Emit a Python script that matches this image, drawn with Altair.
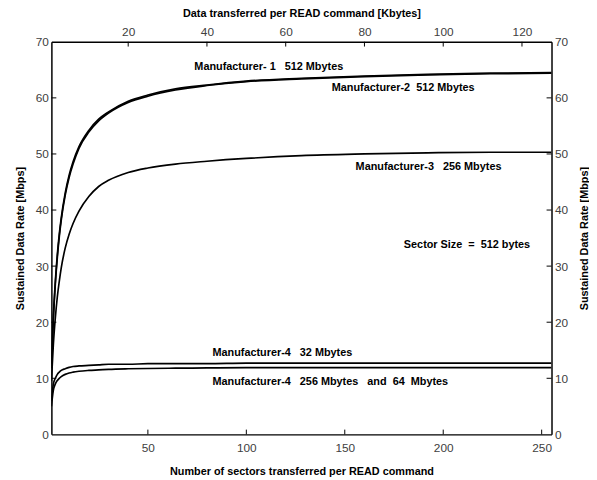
import altair as alt
import pandas as pd

# sectors per READ command
sectors = [1, 2, 3, 4, 5, 6, 8, 10, 12, 15, 20, 25, 30, 40, 50, 64, 80, 100, 128, 160, 192, 224, 255]
m1 = [12.6, 21.2, 27.3, 32.0, 35.7, 38.6, 43.0, 46.2, 48.6, 51.3, 54.2, 56.2, 57.5, 59.4, 60.5, 61.6, 62.3, 63.0, 63.5, 63.9, 64.2, 64.4, 64.5]
m2 = [11.8, 20.5, 26.8, 31.5, 35.2, 38.2, 42.6, 45.8, 48.2, 51.0, 53.9, 55.9, 57.3, 59.2, 60.3, 61.4, 62.2, 62.9, 63.4, 63.8, 64.1, 64.3, 64.4]
m3 = [9.5, 16.1, 20.8, 24.5, 27.3, 29.7, 33.2, 35.7, 37.6, 39.8, 42.4, 44.2, 45.3, 46.7, 47.5, 48.2, 48.7, 49.2, 49.7, 50.0, 50.2, 50.3, 50.3]
m4a = [6.0, 9.0, 10.0, 10.7, 11.1, 11.4, 11.7, 11.95, 12.1, 12.2, 12.3, 12.4, 12.5, 12.5, 12.6, 12.6, 12.6, 12.7, 12.7, 12.7, 12.7, 12.7, 12.7]
m4b = [5.0, 7.9, 9.0, 9.6, 10.0, 10.3, 10.7, 10.95, 11.1, 11.25, 11.4, 11.5, 11.6, 11.7, 11.75, 11.8, 11.85, 11.9, 11.9, 11.9, 11.9, 11.9, 11.9]
series_names = ["M1", "M2", "M3", "M4a", "M4b"]

label_texts = [
    "Manufacturer- 1\u00a0\u00a0 512 Mbytes",
    "Manufacturer-2\u00a0 512 Mbytes",
    "Manufacturer-3\u00a0\u00a0 256 Mbytes",
    "Sector Size\u00a0 = \u00a0512 bytes",
    "Manufacturer-4\u00a0\u00a0 32 Mbytes",
    "Manufacturer-4\u00a0\u00a0 256 Mbytes\u00a0\u00a0 and\u00a0 64\u00a0 Mbytes",
]
label_x = [73.6, 143.4, 155.5, 180.0, 82.8, 82.8]
label_y = [65.5, 61.7, 47.6, 33.8, 14.5, 9.3]

bottom_ticks = [50, 100, 150, 200, 250]
top_ticks = [40, 80, 120, 160, 200, 240]  # sectors -> 20..120 Kbytes
y_ticks = [0, 10, 20, 30, 40, 50, 60, 70]

rows = []
for name, vals in zip(series_names, [m1, m2, m3, m4a, m4b]):
    for s, v in zip(sectors, vals):
        rows.append({"series": name, "n": s, "rate": v})
df = pd.DataFrame(rows)
labels_df = pd.DataFrame({"text": label_texts, "x": label_x, "y": label_y})

XS = alt.Scale(domain=[1, 255], nice=False, zero=False)
YS = alt.Scale(domain=[0, 70], nice=False)
FONT = "Liberation Sans"
TCOL = "#404040"

lines = alt.Chart(df).mark_line(color="black", strokeWidth=1.7, interpolate="monotone", clip=True).encode(
    x=alt.X("n:Q", scale=XS, axis=alt.Axis(
        orient="bottom", values=bottom_ticks, title="Number of sectors transferred per READ command",
        labelPadding=8, titlePadding=13)),
    y=alt.Y("rate:Q", scale=YS, axis=alt.Axis(
        orient="left", values=y_ticks, title="Sustained Data Rate  [Mbps]",
        labelPadding=3, titlePadding=10)),
    detail="series:N",
)

tdf_bottom = pd.DataFrame({"t": bottom_ticks})
tdf_top = pd.DataFrame({"t": top_ticks})
tdf_y = pd.DataFrame({"t": y_ticks[1:-1]})

tick_bottom = alt.Chart(tdf_bottom).mark_rule(color="black", strokeWidth=1).encode(
    x=alt.X("t:Q", scale=XS, axis=None),
    y=alt.datum(0, scale=YS, axis=None), y2=alt.datum(0.85),
)
tick_top = alt.Chart(tdf_top).mark_rule(color="black", strokeWidth=1).encode(
    x=alt.X("t:Q", scale=XS, axis=alt.Axis(
        orient="top", values=top_ticks, labelExpr="datum.value / 2",
        title="Data transferred per READ command [Kbytes]", labelPadding=3, titlePadding=8)),
    y=alt.datum(70, scale=YS, axis=None), y2=alt.datum(69.15),
)
tick_left = alt.Chart(tdf_y).mark_rule(color="black", strokeWidth=1).encode(
    y=alt.Y("t:Q", scale=YS, axis=None),
    x=alt.datum(1, scale=XS, axis=None), x2=alt.datum(3.5),
)
tick_right = alt.Chart(tdf_y).mark_rule(color="black", strokeWidth=1).encode(
    y=alt.Y("t:Q", scale=YS, axis=alt.Axis(
        orient="right", values=y_ticks, title="Sustained Data Rate  [Mbps]",
        labelPadding=3, titlePadding=11, titleAngle=270, titleBaseline="top")),
    x=alt.datum(255, scale=XS, axis=None), x2=alt.datum(252.5),
)

texts = alt.Chart(labels_df).mark_text(
    align="left", baseline="middle", font=FONT, fontSize=11, fontWeight="bold", color="black"
).encode(
    x=alt.X("x:Q", scale=XS, axis=None),
    y=alt.Y("y:Q", scale=YS, axis=None),
    text="text:N",
)

chart = alt.layer(lines, tick_bottom, tick_top, tick_left, tick_right, texts).resolve_axis(
    x="independent", y="independent"
).properties(
    width=507, height=398,
    autosize=alt.AutoSizeParams(type="none"),
    padding={"left": 44, "top": 31, "right": 38, "bottom": 43},
).configure_view(stroke=None).configure_axis(
    labelFont=FONT, labelFontSize=12, labelColor=TCOL,
    titleFont=FONT, titleFontSize=11, titleFontWeight="bold", titleColor="black",
    domainColor="black", domainWidth=1.5, ticks=False, grid=False,
)

chart.save("out.html", embed_options={"renderer": "svg", "actions": False})
